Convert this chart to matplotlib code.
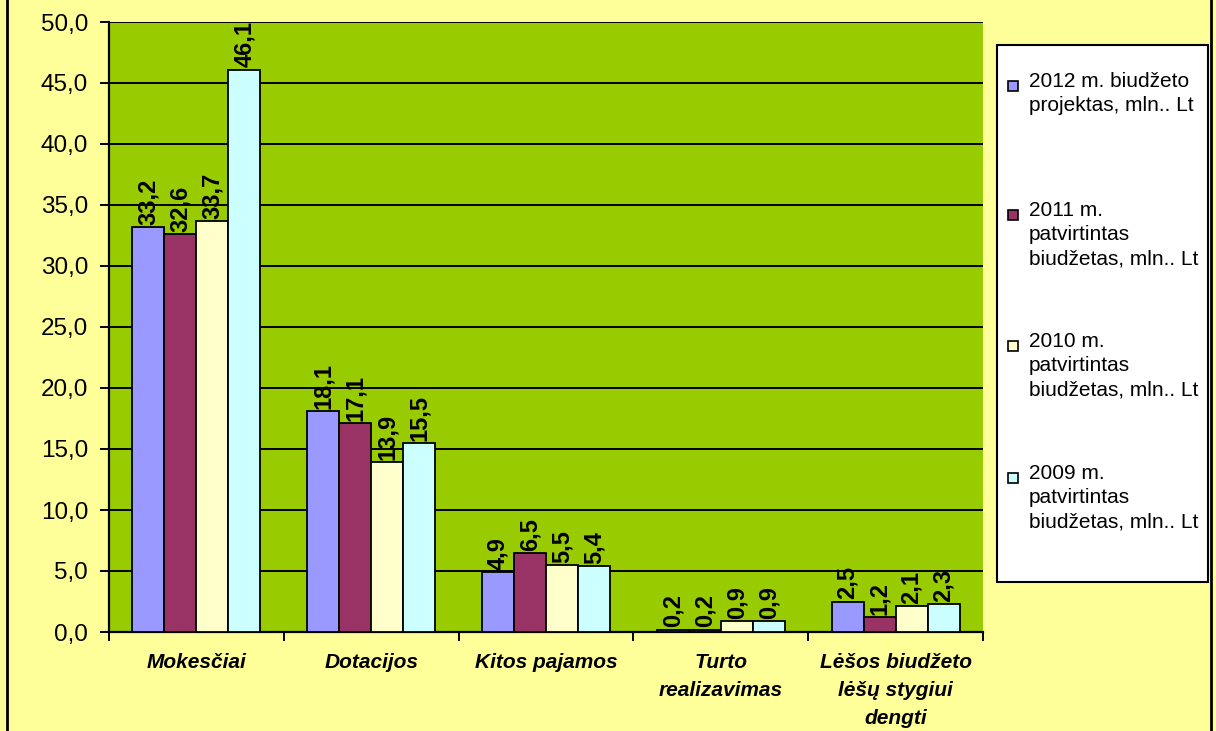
import numpy as np
import matplotlib
matplotlib.use('Agg')
import matplotlib.pyplot as plt
from matplotlib.patches import Rectangle
from matplotlib.ticker import FixedLocator, NullFormatter

plt.rcParams['font.family'] = ['Liberation Sans', 'DejaVu Sans']

# ---------------------------------------------------------------------------
# Data
# ---------------------------------------------------------------------------
categories = ['Mokesčiai', 'Dotacijos', 'Kitos pajamos',
              'Turto\nrealizavimas', 'Lėšos biudžeto\nlėšų stygiui\ndengti']
series_names = ['2012 m. biudžeto\nprojektas, mln.. Lt',
                '2011 m.\npatvirtintas\nbiudžetas, mln.. Lt',
                '2010 m.\npatvirtintas\nbiudžetas, mln.. Lt',
                '2009 m.\npatvirtintas\nbiudžetas, mln.. Lt']
values_2012 = [33.2, 18.1, 4.9, 0.2, 2.5]
values_2011 = [32.6, 17.1, 6.5, 0.2, 1.2]
values_2010 = [33.7, 13.9, 5.5, 0.9, 2.1]
values_2009 = [46.1, 15.5, 5.4, 0.9, 2.3]
yticks = [0, 5, 10, 15, 20, 25, 30, 35, 40, 45, 50]

series = [values_2012, values_2011, values_2010, values_2009]
colors = ['#9999FF', '#993366', '#FFFFCC', '#CCFFFF']

FIG_BG = '#FFFF99'
PLOT_BG = '#99CC00'
W, H = 1216, 731

# legend layout (pixels from top-left)
LEG_BOX = (997, 45, 1208, 582)
LEG_FIRST_LINE_Y = [86, 215, 346, 478]

# ---------------------------------------------------------------------------
# Figure
# ---------------------------------------------------------------------------
fig = plt.figure(figsize=(W / 100, H / 100), dpi=100)
fig.patch.set_facecolor(FIG_BG)
ax = fig.add_axes([109 / W, 1 - 632 / H, (983 - 109) / W, (632 - 22) / H])
ax.set_facecolor(PLOT_BG)

x = np.arange(len(categories))
bar_w = 0.183
offsets = (np.arange(4) - 1.5) * bar_w

for vals, off, col, name in zip(series, offsets, colors, series_names):
    bars = ax.bar(x + off, vals, width=bar_w, color=col, edgecolor='black',
                  linewidth=1.3, label=name, zorder=3)
    for b, v in zip(bars, vals):
        ax.annotate(f'{v:.1f}'.replace('.', ','),
                    xy=(b.get_x() + b.get_width() / 2, b.get_height()),
                    xytext=(0, 1.5), textcoords='offset points',
                    rotation=90, ha='center', va='bottom',
                    fontsize=17, fontweight='bold', color='black',
                    annotation_clip=False, zorder=4)

ax.set_xlim(-0.5, len(categories) - 0.5)
ax.set_ylim(0, 50)
ax.set_yticks(yticks)
ax.set_yticklabels([f'{t:.1f}'.replace('.', ',') for t in yticks], fontsize=17.5)
ax.yaxis.grid(True, color='black', linewidth=1.4, zorder=0)
ax.set_axisbelow(True)

# category labels at centres, tick marks at group boundaries
ax.set_xticks(x)
ax.set_xticklabels(categories, fontsize=15, fontweight='bold', fontstyle='italic',
                   linespacing=1.62)
ax.tick_params(axis='x', which='major', length=0, pad=15)
ax.xaxis.set_minor_locator(FixedLocator(np.arange(-0.5, len(categories), 1.0)))
ax.xaxis.set_minor_formatter(NullFormatter())
ax.tick_params(axis='x', which='minor', length=6.5, width=1.4, direction='out')
ax.tick_params(axis='y', length=6.5, width=1.4, direction='out', pad=8.5)

for s in ['top', 'right']:
    ax.spines[s].set_visible(False)
for s in ['left', 'bottom']:
    ax.spines[s].set_linewidth(1.6)
    ax.spines[s].set_color('black')

# legend: white box with square keys aligned to the first line of each label
x0, y0, x1, y1 = LEG_BOX
fig.patches.append(Rectangle((x0 / W, 1 - y1 / H), (x1 - x0) / W, (y1 - y0) / H,
                             transform=fig.transFigure, facecolor='white',
                             edgecolor='black', linewidth=1.5, zorder=1))
key = 10
for name, col, ly in zip(series_names, colors, LEG_FIRST_LINE_Y):
    fig.patches.append(Rectangle((1008 / W, 1 - (ly + key / 2) / H), key / W, key / H,
                                 transform=fig.transFigure, facecolor=col,
                                 edgecolor='black', linewidth=1.2, zorder=2))
    fig.text(1029 / W, 1 - (ly - 14) / H, name, fontsize=15, va='top', ha='left',
             linespacing=1.36, color='black', zorder=3)

# outer chart border (left and right edges visible)
fig.patches.append(Rectangle((7 / W, -0.01), (1211 - 7) / W, 1.02,
                             transform=fig.transFigure, fill=False,
                             edgecolor='black', linewidth=2, zorder=0))

fig.savefig('out.png', dpi=100, facecolor=FIG_BG)
